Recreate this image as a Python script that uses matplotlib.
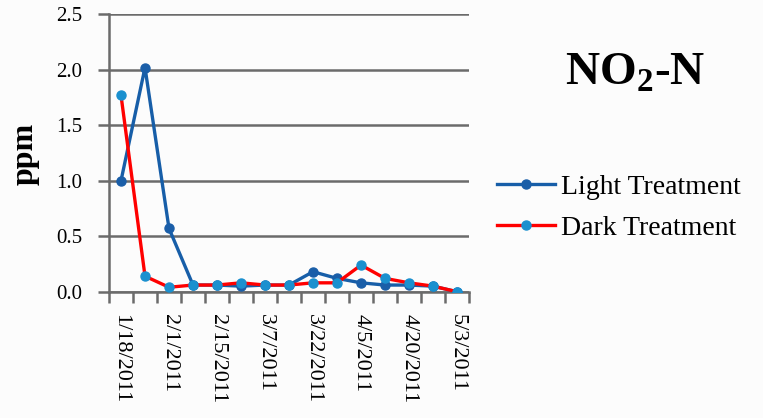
import numpy as np
import matplotlib
matplotlib.use("Agg")
import matplotlib.pyplot as plt
from matplotlib.ticker import FixedLocator

plt.rcParams['font.family'] = ['Liberation Serif', 'DejaVu Serif']
plt.rcParams['mathtext.fontset'] = 'custom'
plt.rcParams['mathtext.rm'] = 'Liberation Serif:bold'

# Sampling dates (every other sampling date is labelled)
tick_labels = ["1/18/2011", "2/1/2011", "2/15/2011", "3/7/2011",
               "3/22/2011", "4/5/2011", "4/20/2011", "5/3/2011"]

light_treatment = [1.00, 2.02, 0.57, 0.06, 0.06, 0.05, 0.06, 0.06,
                   0.18, 0.12, 0.08, 0.06, 0.06, 0.05, 0.00]
dark_treatment = [1.77, 0.14, 0.04, 0.06, 0.06, 0.08, 0.06, 0.06,
                  0.08, 0.08, 0.24, 0.12, 0.08, 0.05, 0.00]

n = len(light_treatment)
x = np.arange(n)

fig = plt.figure(figsize=(7.63, 4.18), dpi=100)
fig.patch.set_facecolor('#fcfcfc')
ax = fig.add_axes([109/763, 1 - 291.7/418, 360/763, (291.7 - 14.3)/418])
ax.set_facecolor('none')

grid_col = '#6b6b6b'

ax.plot(x, light_treatment, color='#175ea8', lw=2.4, marker='o', ms=6.5,
        mfc='#1a5ea8', mec='#1a5ea8', label='Light Treatment', zorder=3)
ax.plot(x, dark_treatment, color='#ff0000', lw=2.4, marker='o', ms=6.5,
        mfc='#1a90cf', mec='#1a90cf', label='Dark Treatment', zorder=4)

ax.set_xlim(-0.5, n - 0.5)
ax.set_ylim(0, 2.5)
ax.set_yticks([0, 0.5, 1.0, 1.5, 2.0, 2.5])
ax.set_yticklabels(['0.0', '0.5', '1.0', '1.5', '2.0', '2.5'], fontsize=15)
ax.yaxis.grid(True, color=grid_col, lw=1.8)
ax.set_axisbelow(True)
ax.tick_params(axis='y', length=8, width=1.8, color=grid_col, pad=11)

ax.set_xticks(x[::2])
ax.set_xticklabels(tick_labels, rotation=270, fontsize=16, va='top', ha='center')
ax.xaxis.set_minor_locator(FixedLocator(np.arange(-0.5, n, 1.0)))
ax.tick_params(axis='x', which='major', length=0, pad=16)
ax.tick_params(axis='x', which='minor', length=8, width=1.8, color=grid_col)

for side in ['top', 'right']:
    ax.spines[side].set_visible(False)
for side in ['left', 'bottom']:
    ax.spines[side].set_color(grid_col)
    ax.spines[side].set_linewidth(1.8)

fig.text(25/763, 1 - 154/418, 'ppm', rotation=90, fontsize=23,
         fontweight='bold', ha='center', va='center')

fig.text(635/763, 1 - 73/418, r'NO$_\mathrm{2}$-N', fontsize=34,
         fontweight='bold', ha='center', va='center')

leg = fig.legend(loc='center left', bbox_to_anchor=(497/763, 1 - 207.5/418),
                 frameon=False, fontsize=20, handlelength=2.1,
                 handletextpad=0.2, labelspacing=0.55, borderpad=0,
                 borderaxespad=0)

fig.savefig('out.png', dpi=100, facecolor=fig.get_facecolor())
